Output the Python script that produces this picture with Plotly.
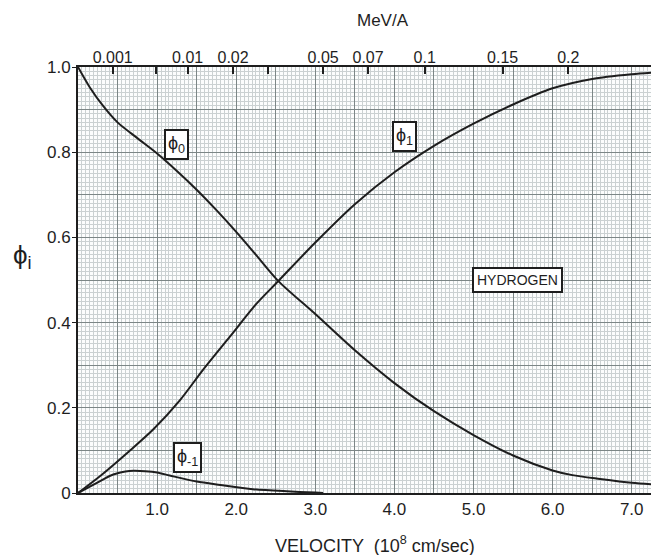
import numpy as np
import plotly.graph_objects as go

# ---- data ----
phi0_v = [0, 0.15, 0.32, 0.5, 0.75, 1.0, 1.25, 1.5, 1.75, 2.0, 2.25, 2.53, 3.0, 3.5, 4.0, 4.5, 5.0, 5.5, 6.0, 6.25, 6.6, 7.0, 7.35]
phi0 = [1.0, 0.952, 0.908, 0.870, 0.833, 0.797, 0.756, 0.712, 0.664, 0.613, 0.559, 0.498, 0.420, 0.335, 0.258, 0.192, 0.136, 0.088, 0.053, 0.042, 0.033, 0.024, 0.019]

phi1_v = [0, 0.32, 0.64, 0.95, 1.29, 1.58, 1.92, 2.26, 2.53, 3.0, 3.5, 4.0, 4.5, 5.0, 5.5, 6.0, 6.5, 7.0, 7.35]
phi1 = [0, 0.046, 0.097, 0.149, 0.218, 0.289, 0.367, 0.445, 0.497, 0.588, 0.678, 0.753, 0.815, 0.867, 0.912, 0.950, 0.972, 0.983, 0.988]

phim1_v = [0, 0.28, 0.4, 0.5, 0.6, 0.7, 0.85, 1.0, 1.16, 1.50, 1.80, 2.21, 2.64, 3.0, 3.1]
phim1 = [0, 0.028, 0.040, 0.0465, 0.0505, 0.052, 0.051, 0.048, 0.041, 0.027, 0.019, 0.009, 0.004, 0.001, 0.0]

x_tick_vals = [1, 2, 3, 4, 5, 6, 7]
x_tick_labels = ["1.0", "2.0", "3.0", "4.0", "5.0", "6.0", "7.0"]
y_tick_vals = [0, 0.2, 0.4, 0.6, 0.8, 1.0]
y_tick_labels = ["0", "0.2", "0.4", "0.6", "0.8", "1.0"]

energy_mev = [0.001, 0.01, 0.02, 0.05, 0.07, 0.1, 0.15, 0.2]
energy_labels = ["0.001", "0.01", "0.02", "0.05", "0.07", "0.1", "0.15", "0.2"]
energy_unlabeled_mev = [0.005, 0.03]
V_PER_SQRT_E = 13.86  # velocity (1e8 cm/s) per sqrt(MeV/A)

x_range = [0, 7.345]
y_range = [0, 1.0]

FONT = "Liberation Sans, Arial, sans-serif"
INK = "#1e1e1e"
major_grid = "#7c8686"
minor_grid = "#cbd1d2"

fig = go.Figure()
line_style = dict(color=INK, width=2, shape="spline", smoothing=0.8)
fig.add_trace(go.Scatter(x=phi0_v, y=phi0, mode="lines", line=line_style, hoverinfo="skip"))
fig.add_trace(go.Scatter(x=phi1_v, y=phi1, mode="lines", line=line_style, hoverinfo="skip"))
fig.add_trace(go.Scatter(x=phim1_v, y=phim1, mode="lines", line=line_style, hoverinfo="skip"))
# invisible traces anchoring the helper axes
for xa in ["x2", "x3", "x4"]:
    fig.add_trace(go.Scatter(x=phi0_v, y=phi0, xaxis=xa, yaxis="y2", mode="lines", opacity=0,
                             line=dict(width=0), hoverinfo="skip"))

top_tickvals = [V_PER_SQRT_E * np.sqrt(e) for e in energy_mev]
top_minor_vals = [V_PER_SQRT_E * np.sqrt(e) for e in energy_unlabeled_mev]

# the page body adds an 8px margin, so the figure is 8px smaller and margins shifted
fig.update_layout(
    width=651, height=547,
    margin=dict(l=70, r=0, t=59, b=62, autoexpand=False),
    paper_bgcolor="white", plot_bgcolor="#fcfdfd",
    showlegend=False,
    font=dict(family=FONT, size=17, color=INK),
    xaxis=dict(
        range=x_range, tickmode="array", tickvals=x_tick_vals, ticktext=x_tick_labels,
        showgrid=True, gridcolor=major_grid, gridwidth=1,
        minor=dict(dtick=0.05, tick0=0, showgrid=True, gridcolor=minor_grid, gridwidth=1),
        showline=True, linecolor=INK, linewidth=2, mirror=False, automargin=False,
        ticks="", zeroline=False, tickfont=dict(size=17, color=INK),
    ),
    xaxis3=dict(
        range=x_range, overlaying="x", tickmode="linear", tick0=0, dtick=0.5,
        showgrid=True, gridcolor=major_grid, gridwidth=1, showticklabels=False,
        ticks="", showline=False, zeroline=False, automargin=False,
    ),
    xaxis2=dict(
        range=x_range, overlaying="x", side="top", tickmode="array",
        tickvals=top_tickvals, ticktext=energy_labels,
        ticks="inside", ticklen=7, tickwidth=1.5, tickcolor=INK,
        ticklabelstandoff=-4,
        showgrid=False, showline=True, linecolor=INK, linewidth=2,
        zeroline=False, automargin=False, tickfont=dict(size=16, color=INK),
    ),
    xaxis4=dict(
        range=x_range, overlaying="x", side="top", tickmode="array",
        tickvals=top_minor_vals, showticklabels=False,
        ticks="inside", ticklen=7, tickwidth=1.5, tickcolor=INK,
        showgrid=False, showline=False, zeroline=False, automargin=False,
    ),
    yaxis=dict(
        range=y_range, tickmode="array", tickvals=y_tick_vals, ticktext=y_tick_labels,
        showgrid=True, gridcolor=major_grid, gridwidth=1,
        minor=dict(dtick=0.01, tick0=0, showgrid=True, gridcolor=minor_grid, gridwidth=1),
        showline=True, linecolor=INK, linewidth=2, mirror=False, automargin=False,
        ticks="outside", ticklen=4, tickcolor=INK, zeroline=False,
        ticklabelstandoff=-2,
        tickfont=dict(size=17, color=INK),
    ),
    yaxis2=dict(
        range=y_range, overlaying="y", tickmode="linear", tick0=0, dtick=0.1,
        showgrid=True, gridcolor=major_grid, gridwidth=1, showticklabels=False,
        ticks="", showline=False, zeroline=False, automargin=False,
    ),
)

box = dict(bordercolor=INK, borderwidth=2, borderpad=2, bgcolor="white", showarrow=False,
           font=dict(family=FONT, size=18, color=INK))
fig.add_annotation(x=1.24, y=0.819, text="ϕ<sub>0</sub>", **box)
fig.add_annotation(x=4.13, y=0.836, text="ϕ<sub>1</sub>", **box)
fig.add_annotation(x=1.38, y=0.084, text="ϕ<sub>-1</sub>", **box)
fig.add_annotation(x=5.55, y=0.50, text="HYDROGEN",
                   bordercolor=INK, borderwidth=2, borderpad=3, bgcolor="white", showarrow=False,
                   font=dict(family=FONT, size=14, color=INK))

fig.add_annotation(xref="paper", yref="paper", x=-0.096, y=0.554, text="ϕ<sub>i</sub>",
                   xanchor="center", yanchor="middle",
                   showarrow=False, font=dict(family=FONT, size=26, color=INK))
fig.add_annotation(xref="paper", yref="paper", x=0.525, y=1.108, text="MeV/A",
                   xanchor="center", yanchor="middle",
                   showarrow=False, font=dict(family=FONT, size=17, color=INK))
fig.add_annotation(xref="paper", yref="paper", x=0.511, y=-0.122,
                   text="VELOCITY  (10<sup>8</sup> cm/sec)",
                   xanchor="center", yanchor="middle",
                   showarrow=False, font=dict(family=FONT, size=18, color=INK))

fig.write_html("out.html")
